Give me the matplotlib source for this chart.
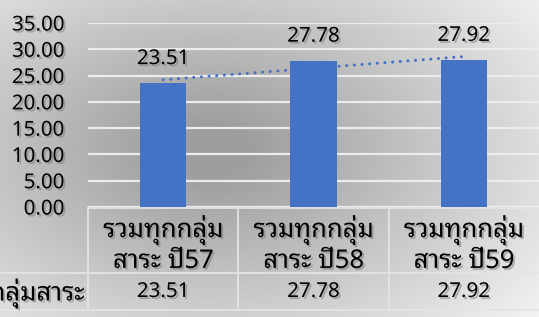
import matplotlib
matplotlib.use("Agg")
import matplotlib.pyplot as plt
import matplotlib.patheffects as pe
import numpy as np

categories = ["รวมทุกกลุ่ม\nสาระ ปี57", "รวมทุกกลุ่ม\nสาระ ปี58", "รวมทุกกลุ่ม\nสาระ ปี59"]
values = [23.51, 27.78, 27.92]
value_labels = ["23.51", "27.78", "27.92"]
row_label = "รวมทุกกลุ่มสาระ"
yticks = [0, 5, 10, 15, 20, 25, 30, 35]

FONT = ["Noto Sans", "Noto Sans Thai Looped", "DejaVu Sans"]
BLUE = "#4472C4"
W, H = 539, 317

fig = plt.figure(figsize=(W / 100, H / 100), dpi=100)

# background radial gradient
bg = fig.add_axes([0, 0, 1, 1], zorder=-10)
yy, xx = np.mgrid[0:H, 0:W]
r = np.sqrt((xx - 210.0) ** 2 + (1.6 * (yy - 150.0)) ** 2)
t = np.clip((r - 40) / 380.0, 0, 1)
v = 0.62 + (0.95 - 0.62) * t
img = np.dstack([v, v, v])
bg.imshow(img, extent=[0, W, H, 0], aspect="auto", interpolation="bilinear")
bg.set_xlim(0, W)
bg.set_ylim(H, 0)
bg.axis("off")

shadow = [pe.SimplePatchShadow(offset=(1.4, -1.4), shadow_rgbFace="#7a7a7a", alpha=0.55), pe.Normal()]

# main axes in pixel layout
left, right, top, bottom = 88, 539, 23, 207
ax = fig.add_axes([left / W, (H - bottom) / H, (right - left) / W, (bottom - top) / H])
ax.patch.set_alpha(0)
x = np.arange(len(values))
ax.bar(x, values, width=0.31, color=BLUE, zorder=3)
ax.set_xlim(-0.5, len(values) - 0.5)
ax.set_ylim(0, 35)
ax.set_yticks(yticks)
ax.set_yticklabels([f"{t:.2f}" for t in yticks])
ax.yaxis.grid(True, color="#ececec", linewidth=1.6, zorder=0)
ax.set_axisbelow(True)
for s in ax.spines.values():
    s.set_visible(False)
ax.tick_params(axis="y", length=0, pad=17, labelsize=14.8)
ax.tick_params(axis="x", length=0, labelbottom=False)
for lab in ax.get_yticklabels():
    lab.set_family(FONT)
    lab.set_path_effects(shadow)

# linear trendline
coef = np.polyfit(x, values, 1)
ax.plot(x, np.polyval(coef, x), color=BLUE, linewidth=2.2, linestyle=(0, (0.01, 2.5)),
        dash_capstyle="round", zorder=4)

# data labels
for xi, val, lab in zip(x, values, value_labels):
    ax.annotate(lab, (xi, val), xytext=(0, 17.5), textcoords="offset points",
                ha="center", va="center", fontsize=14.8, family=FONT, path_effects=shadow)

# data table
ph = bottom - top
def fy(py):
    return (bottom - py) / ph

tcol = "#e4e4e4"
xtr = ax.get_xaxis_transform()
xfull0 = -left / (right - left)
ax.plot([-0.5, 2.5], [fy(207.5)] * 2, color=tcol, lw=1.3, transform=xtr, clip_on=False)
ax.plot([xfull0, 1], [fy(273)] * 2, color=tcol, lw=1.3, transform=ax.transAxes, clip_on=False)
ax.plot([xfull0, 1], [fy(310)] * 2, color=tcol, lw=1.3, transform=ax.transAxes, clip_on=False)
for xb in [-0.5, 0.5, 1.5]:
    ax.plot([xb, xb], [fy(207.5), fy(310)], color=tcol, lw=1.3, transform=xtr, clip_on=False)

for xi, cat, lab in zip(x, categories, value_labels):
    ax.text(xi, fy(244), cat, transform=xtr, ha="center", va="center", fontsize=18.5,
            family=FONT, linespacing=1.2, path_effects=shadow, clip_on=False)
    ax.text(xi, fy(292), lab, transform=xtr, ha="center", va="center", fontsize=14.8,
            family=FONT, path_effects=shadow, clip_on=False)

ax.text(-0.5 - 4 / 150.33, fy(293), row_label, transform=xtr, ha="right", va="center",
        fontsize=18.5, family=FONT, path_effects=shadow, clip_on=False)

fig.savefig("out.png", dpi=100)
